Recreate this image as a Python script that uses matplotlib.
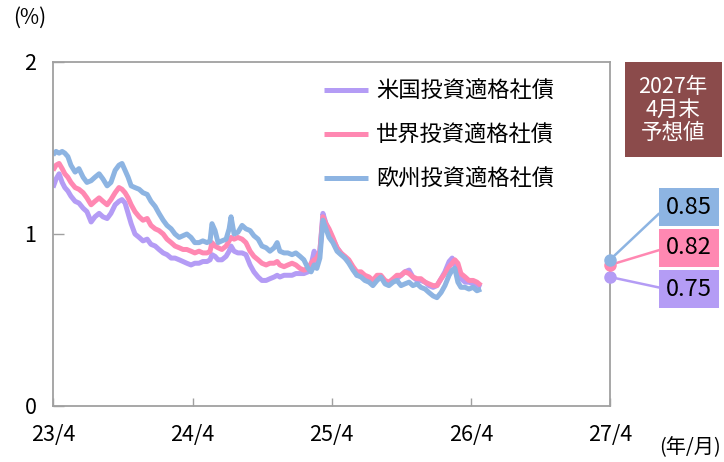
import numpy as np
import pandas as pd
import matplotlib
matplotlib.use('Agg')
from matplotlib import pyplot as plt
from matplotlib.patches import Rectangle

plt.rcParams['font.family'] = ['Noto Sans CJK JP', 'DejaVu Sans']

# days since 2023-04-01
days = [0, 8, 16, 24, 31, 39, 47, 58, 68, 79, 89, 100, 110, 121, 131, 142, 152, 163, 173, 181,
        189, 197, 205, 215, 226, 236, 247, 257, 268, 278, 289, 299, 310, 320, 331, 341, 351, 362, 372, 383,
        393, 404, 412, 417, 425, 433, 443, 454, 462, 467, 475, 485, 496, 506, 517, 527, 538, 548, 559, 569,
        580, 588, 595, 606, 616, 627, 637, 648, 658, 669, 677, 685, 692, 700, 708, 716, 724, 734, 745, 755,
        766, 776, 787, 797, 808, 818, 829, 839, 850, 860, 871, 881, 892, 902, 913, 923, 934, 944, 955, 965,
        976, 986, 997, 1007, 1018, 1028, 1039, 1047, 1054, 1062, 1070, 1081, 1091, 1102, 1112, 1123]

europe = [1.46, 1.48, 1.47, 1.48, 1.47, 1.45, 1.40, 1.36, 1.38, 1.33, 1.30, 1.31, 1.33, 1.35, 1.32, 1.28, 1.30, 1.37, 1.40, 1.41,
          1.37, 1.33, 1.28, 1.27, 1.26, 1.24, 1.23, 1.19, 1.16, 1.12, 1.08, 1.05, 1.03, 1.00, 0.98, 0.99, 1.00, 0.98, 0.95, 0.95,
          0.96, 0.95, 0.96, 1.06, 1.02, 0.95, 0.96, 0.97, 1.03, 1.10, 1.00, 1.01, 1.05, 1.03, 1.02, 0.99, 0.97, 0.93, 0.92, 0.90,
          0.92, 0.95, 0.90, 0.89, 0.89, 0.88, 0.89, 0.87, 0.85, 0.80, 0.78, 0.82, 0.80, 0.86, 1.08, 1.03, 0.98, 0.95, 0.90, 0.88,
          0.86, 0.83, 0.79, 0.76, 0.75, 0.73, 0.72, 0.70, 0.73, 0.75, 0.71, 0.70, 0.72, 0.73, 0.70, 0.71, 0.72, 0.70, 0.71, 0.69,
          0.68, 0.66, 0.64, 0.63, 0.66, 0.70, 0.76, 0.79, 0.80, 0.72, 0.69, 0.69, 0.68, 0.69, 0.67, 0.68]

world = [1.37, 1.40, 1.41, 1.38, 1.35, 1.33, 1.30, 1.27, 1.26, 1.24, 1.21, 1.17, 1.19, 1.21, 1.19, 1.17, 1.20, 1.24, 1.27, 1.26,
         1.24, 1.21, 1.17, 1.13, 1.10, 1.08, 1.09, 1.05, 1.03, 1.02, 1.00, 0.97, 0.95, 0.93, 0.92, 0.91, 0.91, 0.90, 0.89, 0.90,
         0.89, 0.89, 0.90, 0.95, 0.93, 0.92, 0.91, 0.93, 0.96, 0.98, 0.97, 0.98, 0.97, 0.95, 0.90, 0.87, 0.85, 0.83, 0.82, 0.83,
         0.83, 0.84, 0.82, 0.81, 0.82, 0.83, 0.82, 0.80, 0.79, 0.80, 0.83, 0.85, 0.86, 0.90, 1.10, 1.06, 1.03, 0.98, 0.92, 0.89,
         0.87, 0.85, 0.81, 0.78, 0.78, 0.76, 0.75, 0.73, 0.76, 0.76, 0.73, 0.72, 0.74, 0.76, 0.76, 0.78, 0.77, 0.75, 0.74, 0.74,
         0.72, 0.71, 0.70, 0.70, 0.74, 0.77, 0.81, 0.83, 0.85, 0.83, 0.77, 0.75, 0.73, 0.73, 0.72, 0.70]

us = [1.27, 1.32, 1.35, 1.30, 1.27, 1.25, 1.22, 1.19, 1.18, 1.15, 1.13, 1.07, 1.10, 1.12, 1.10, 1.09, 1.12, 1.17, 1.19, 1.20,
      1.18, 1.12, 1.06, 1.00, 0.98, 0.96, 0.97, 0.94, 0.93, 0.91, 0.89, 0.88, 0.86, 0.86, 0.85, 0.84, 0.83, 0.82, 0.83, 0.83,
      0.84, 0.84, 0.85, 0.88, 0.87, 0.85, 0.85, 0.87, 0.90, 0.93, 0.90, 0.89, 0.89, 0.88, 0.82, 0.78, 0.75, 0.73, 0.73, 0.74,
      0.75, 0.76, 0.75, 0.76, 0.76, 0.76, 0.77, 0.77, 0.77, 0.78, 0.82, 0.90, 0.84, 0.90, 1.12, 1.06, 1.02, 0.97, 0.92, 0.89,
      0.86, 0.84, 0.80, 0.76, 0.76, 0.75, 0.74, 0.72, 0.74, 0.75, 0.72, 0.71, 0.73, 0.74, 0.76, 0.78, 0.79, 0.75, 0.73, 0.73,
      0.72, 0.70, 0.69, 0.70, 0.74, 0.78, 0.84, 0.86, 0.82, 0.78, 0.74, 0.72, 0.72, 0.71, 0.70, 0.69]

labels = ['米国投資適格社債', '世界投資適格社債', '欧州投資適格社債']
forecast = [0.75, 0.82, 0.85]
colors = ['#B49CF5', '#FF88B2', '#8DB4E2']
tick_dates = ['2023-04-01', '2024-04-01', '2025-04-01', '2026-04-01', '2027-04-01']
tick_labels = ['23/4', '24/4', '25/4', '26/4', '27/4']

start = pd.Timestamp('2023-04-01')
dates = start + pd.to_timedelta(days, unit='D')
fc_date = pd.Timestamp('2027-04-01')

fig = plt.figure(figsize=(7.24, 4.62), dpi=100)
ax = fig.add_axes([53 / 724, 56 / 462, 557 / 724, 344 / 462])

for ser, lab, col in zip([us, world, europe], labels, colors):
    ax.plot(dates, ser, color=col, lw=3.6, label=lab, solid_capstyle='butt')

ax.set_xlim(start, fc_date)
ax.set_ylim(0, 2)
ax.set_yticks([0, 1, 2])
ax.set_xticks(pd.to_datetime(tick_dates))
ax.set_xticklabels(tick_labels)
ax.tick_params(axis='x', direction='in', length=6, width=1, color='#A0A0A0', pad=13, labelsize=15.5)
ax.tick_params(axis='y', direction='in', length=8, width=1, color='#A0A0A0', pad=12, labelsize=15.5)
for sp in ax.spines.values():
    sp.set_color('#A0A0A0')
    sp.set_linewidth(1.3)

leg = ax.legend(loc='upper left', bbox_to_anchor=(324 / 724, 1 - 80 / 462), bbox_transform=fig.transFigure,
                frameon=False, fontsize=16, handlelength=2.0, handletextpad=0.35, labelspacing=0.95,
                borderpad=0, borderaxespad=0)

# forecast points and value boxes
box_y = [173, 214, 255]
for val, col, by in zip(forecast, colors, box_y):
    ax.plot([fc_date], [val], 'o', color=col, ms=8, clip_on=False, zorder=5)
    ax.annotate(f'{val:.2f}', xy=(fc_date, val), xytext=(689, by), textcoords='figure pixels',
                ha='center', va='center', fontsize=17, color='black',
                bbox=dict(boxstyle='square,pad=0.3', fc=col, ec='none'),
                arrowprops=dict(arrowstyle='-', color=col, lw=1.8, relpos=(0, 0.5),
                                shrinkA=0, shrinkB=0))

fig.patches.append(Rectangle((625 / 724, 1 - 157 / 462), 97 / 724, 95 / 462,
                             transform=fig.transFigure, fc='#8B4B4B', ec='none'))
fig.text(673 / 724, 1 - 110 / 462, '2027年\n4月末\n予想値', ha='center', va='center',
         color='white', fontsize=15.5, linespacing=1.05)

fig.text(30 / 724, 1 - 18 / 462, '(%)', ha='center', va='center', fontsize=15)
fig.text(690 / 724, 1 - 448 / 462, '(年/月)', ha='center', va='center', fontsize=14.5)

plt.savefig('out.png', dpi=100)
